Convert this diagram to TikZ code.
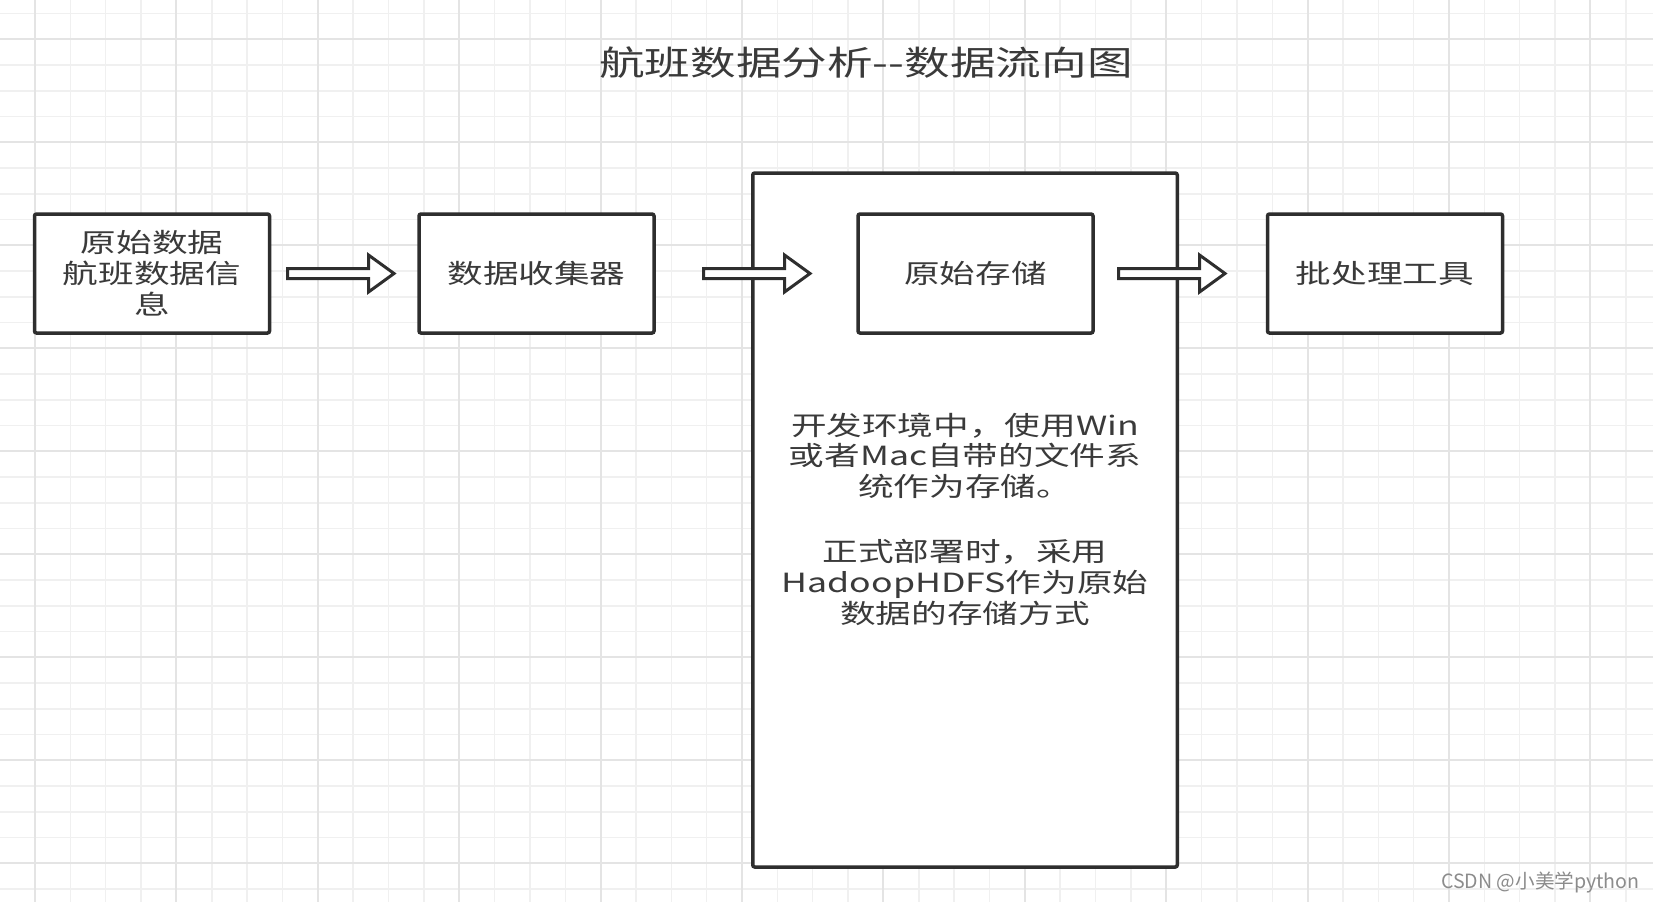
\documentclass[tikz,border=0pt]{standalone}
\usepackage{fontspec}
\newfontfamily\cjk[FakeStretch=1.35]{Noto Sans CJK SC}
\newfontfamily\cjkplain{Noto Sans CJK SC}
\definecolor{ink}{HTML}{2E2E2E}
\definecolor{txt}{HTML}{3A3A3A}
\definecolor{gridmin}{HTML}{F0F0F0}
\definecolor{gridmaj}{HTML}{E4E4E4}
\definecolor{mark}{HTML}{8C8C8C}
\begin{document}
\begin{tikzpicture}[x=0.5pt,y=-0.5pt,
  gridminor/.style={draw=gridmin,line width=0.75pt},
  gridmajor/.style={draw=gridmaj,line width=1pt},
  box/.style={draw=ink,fill=white,line width=1.75pt,rounded corners=1pt,
    minimum width=117.5pt,minimum height=59.5pt,inner sep=0pt,
    align=center,text=txt,font=\cjk\fontsize{13.2pt}{15.5pt}\selectfont},
  bigbox/.style={draw=ink,fill=white,line width=1.75pt,rounded corners=1pt,
    minimum width=212.25pt,minimum height=347pt,inner sep=0pt},
  note/.style={align=center,text=txt,inner sep=0pt,
    font=\cjk\fontsize{13.2pt}{15.4pt}\selectfont},
  titletext/.style={text=txt,inner sep=0pt,font=\cjk\fontsize{16.9pt}{20pt}\selectfont},
  blockarr/.style={draw=ink,fill=white,line width=1.5pt,line join=miter}
]
\useasboundingbox (0,0) rectangle (1653,902);
\fill[white] (0,0) rectangle (1653,902);

% background grid
\foreach \k in {-1,...,46} \draw[gridminor] ({35+35.35*\k},0) -- ++(0,902);
\foreach \k in {-1,...,33} \draw[gridminor] (0,{39.3+25.75*\k}) -- ++(1653,0);
\foreach \k in {0,...,11} \draw[gridmajor] ({35+141.4*\k},0) -- ++(0,902);
\foreach \k in {0,...,8} \draw[gridmajor] (0,{39.3+103*\k}) -- ++(1653,0);

% title
\node[titletext] (title) at (866,63) {航班数据分析--数据流向图};

% storage area with its description
\node[bigbox] (store) at (965,520) {};
\node[note] (notes) at (965,519) {开发环境中，使用Win\\或者Mac自带的文件系\\统作为存储。\\[17pt]
  正式部署时，采用\\HadoopHDFS作为原始\\数据的存储方式};

% processing stages
\node[box] (raw) at (152,273.5) {原始数据\\航班数据信\\息};
\node[box] (collector) at (536.5,273.5) {数据收集器};
\node[box] (rawstore) at (975.5,273.5) {原始存储};
\node[box] (batch) at (1385,273.5) {批处理工具};

% block arrows between the stages
\newcommand\blockarrow[1]{%
  \draw[blockarr] (#1) ++(0,-5) -- ++(81,0) -- ++(0,-13.5) -- ++(25.5,18.5)
    -- ++(-25.5,18.5) -- ++(0,-13.5) -- ++(-81,0) -- cycle;}
\coordinate (a1) at (287.5,273.5);
\coordinate (a2) at (703.5,273.5);
\coordinate (a3) at (1118.5,273.5);
\blockarrow{a1}
\blockarrow{a2}
\blockarrow{a3}

% watermark
\node[anchor=east,inner sep=0pt,text=mark,font=\cjkplain\fontsize{9.8pt}{12pt}\selectfont]
  (wm) at (1640,882) {CSDN @小美学python};
\end{tikzpicture}
\end{document}
